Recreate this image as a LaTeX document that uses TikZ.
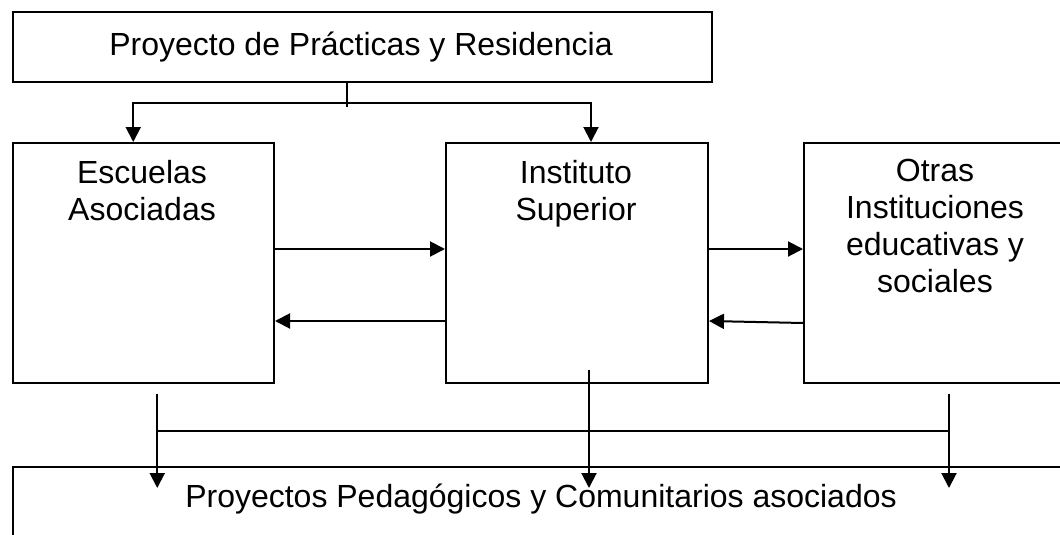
\documentclass[tikz,border=0pt]{standalone}
\usepackage{fontspec}
\setmainfont{Liberation Sans}
\usetikzlibrary{arrows.meta,positioning}

\begin{document}
\begin{tikzpicture}[x=1pt,y=-1pt,
	caja/.style={draw,line width=2pt,inner sep=0pt,anchor=north west},
	texto/.style={font=\fontsize{32}{37}\selectfont,align=center,inner sep=0pt,anchor=base},
	linea/.style={line width=2pt},
	flecha/.style={linea,-{Triangle[length=15pt,width=15pt]}}]
	\useasboundingbox (0,0) rectangle (1060,535);
	
	\node[caja,minimum width=699.5pt,minimum height=70pt] (proyecto) at (11.5,11) {};
	\node[caja,minimum width=261.5pt,minimum height=240pt] (escuelas) at (11.5,142) {};
	\node[caja,minimum width=262pt,minimum height=240pt] (instituto) at (445,142) {};
	\node[caja,minimum width=264pt,minimum height=240pt] (otras) at (803,142) {};
	\node[caja,minimum width=1059.5pt,minimum height=100pt] (comunitarios) at (11.5,466) {};
	
	\node[texto] (t-proyecto) at (361,56) {Proyecto de Prácticas y Residencia};
	\node[texto] (t-escuelas) at (142,220) {Escuelas\\Asociadas};
	\node[texto] (t-instituto) at (576,220) {Instituto\\Superior};
	\node[texto] (t-otras) at (935,292) {Otras\\Instituciones\\educativas y\\sociales};
	\node[texto] (t-comunitarios) at (541,507) {Proyectos Pedagógicos y Comunitarios asociados};
	
	\coordinate (reparto) at (347,103);
	\draw[linea] (proyecto.south -| reparto) -- ([yshift=-4pt]reparto);
	\draw[flecha] (reparto) -| ([xshift=-10pt]escuelas.north);
	\draw[flecha] (reparto) -| ([xshift=14pt]instituto.north);
	
	\draw[flecha] ([yshift=14pt]escuelas.east) -- ([yshift=14pt]instituto.west);
	\draw[flecha] ([yshift=-58pt]instituto.west) -- ([yshift=-58pt]escuelas.east);
	\draw[flecha] ([yshift=14pt]instituto.east) -- ([yshift=14pt]otras.west);
	\draw[flecha] ([yshift=-60pt]otras.west) -- ([yshift=-58pt]instituto.east);
	
	\coordinate (bajaA) at ([xshift=14pt,yshift=-10pt]escuelas.south);
	\coordinate (bajaB) at ([xshift=12pt,yshift=14pt]instituto.south);
	\coordinate (bajaC) at ([xshift=13pt,yshift=-10pt]otras.south);
	\coordinate (nivel) at ([yshift=-22pt]comunitarios.north);
	\draw[linea] ([yshift=-37pt]bajaA) -- ([yshift=-37pt]bajaC);
	\draw[flecha] (bajaA) -- (bajaA |- nivel);
	\draw[flecha] (bajaB) -- (bajaB |- nivel);
	\draw[flecha] (bajaC) -- (bajaC |- nivel);
	
\end{tikzpicture}
\end{document}
